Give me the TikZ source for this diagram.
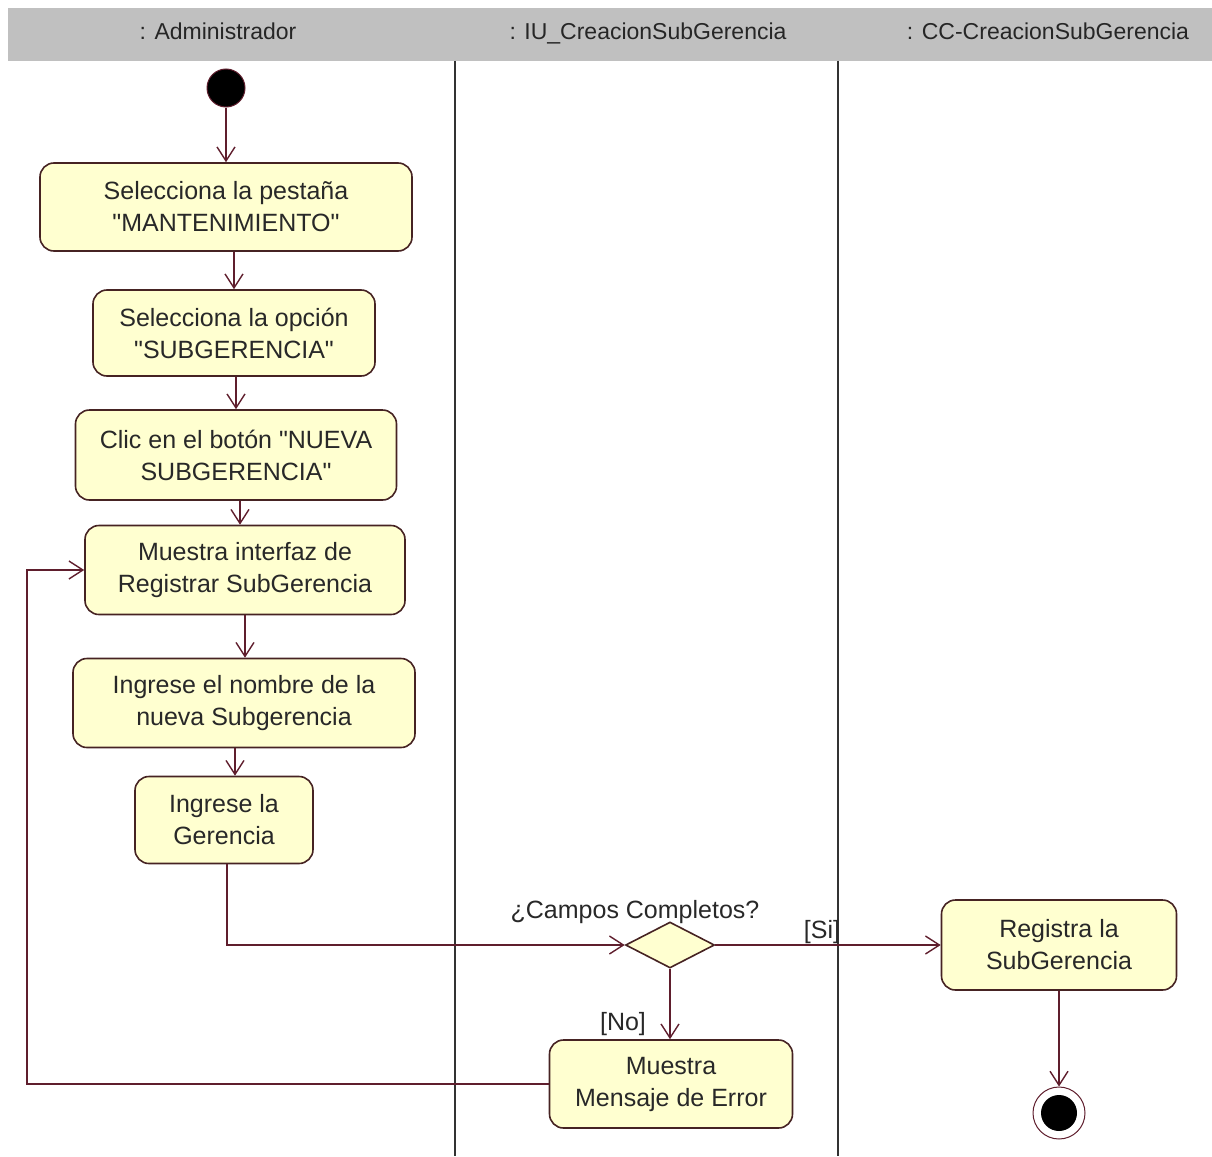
\documentclass[tikz,border=0pt]{standalone}
\usepackage{fontspec}
\setmainfont{Liberation Sans}[Ligatures=TeXOff]
\usetikzlibrary{arrows.meta,shapes.geometric}
\definecolor{lanegray}{RGB}{192,192,192}
\definecolor{actfill}{RGB}{255,255,208}
\definecolor{edgecol}{RGB}{95,30,45}
\definecolor{bordercol}{RGB}{70,35,35}
\definecolor{txtcol}{RGB}{40,40,40}
\definecolor{lanecol}{RGB}{50,50,50}

\begin{document}
\begin{tikzpicture}[x=1pt,y=-1pt,
  hdr/.style={font=\fontsize{23}{28}\selectfont, text=black!85, inner sep=0pt,
    text height=17pt, text depth=5pt},
  act/.style={draw=bordercol, line width=1.6pt, fill=actfill, rounded corners=14pt,
    align=center, font=\fontsize{25}{32}\selectfont, text=txtcol, inner sep=0pt},
  lbl/.style={font=\fontsize{25}{30}\selectfont, text=txtcol, inner sep=0pt},
  flow/.style={draw=edgecol, line width=1.6pt,
    -{Straight Barb[length=14pt,width=18pt,line width=1.4pt]}},
  lane/.style={draw=lanecol, line width=1.5pt},
  decision/.style={diamond, draw=bordercol, line width=1.6pt, fill=actfill,
    minimum width=89pt, minimum height=46pt, inner sep=0pt}
]
\useasboundingbox (0,0) rectangle (1212,1156);

% swimlane header band and separators
\fill[lanegray] (8,8) rectangle (1212,61);
\draw[lane] (455,61) -- (455,1156);
\draw[lane] (838,61) -- (838,1156);
\node[hdr] (hA) at (218,34) {: Administrador};
\node[hdr] (hB) at (648,34) {: IU\_CreacionSubGerencia};
\node[hdr] (hC) at (1048,34) {: CC-CreacionSubGerencia};

% initial node
\node[circle, fill=black, draw=edgecol, line width=1pt, minimum size=38pt, inner sep=0pt] (start) at (226,88) {};

% activities
\node[act, minimum width=372pt, minimum height=88pt] (A1) at (226,207)
  {Selecciona la pestaña\\"MANTENIMIENTO"};
\node[act, minimum width=282pt, minimum height=86pt] (A2) at (234,333)
  {Selecciona la opción\\"SUBGERENCIA"};
\node[act, minimum width=321pt, minimum height=90pt] (A3) at (236,455)
  {Clic en el botón "NUEVA\\SUBGERENCIA"};
\node[act, minimum width=320pt, minimum height=89pt] (A4) at (245,570)
  {Muestra interfaz de\\Registrar SubGerencia};
\node[act, minimum width=342pt, minimum height=89pt] (A5) at (244,703)
  {Ingrese el nombre de la\\nueva Subgerencia};
\node[act, minimum width=178pt, minimum height=87pt] (A6) at (224,820)
  {Ingrese la\\Gerencia};
\node[decision] (D) at (670,945) {};
\node[act, minimum width=243pt, minimum height=88pt] (A7) at (671,1084)
  {Muestra\\Mensaje de Error};
\node[act, minimum width=235pt, minimum height=90pt] (A8) at (1059,945)
  {Registra la\\SubGerencia};

% final node
\node[circle, fill=white, draw=edgecol, line width=1pt, minimum size=52pt, inner sep=0pt] (F) at (1059,1113) {};
\node[circle, fill=black, minimum size=36pt, inner sep=0pt] (Fin) at (F) {};

% guard and decision labels
\node[lbl] (q) at (635,912) {¿Campos Completos?};
\node[lbl] (no) at (623,1024) {[No]};
\node[lbl] (si) at (822,932) {[Si]};

% control flows
\coordinate (loopx) at (27,0);
\draw[flow] (start) -- (A1);
\draw[flow] (A1.south -| A2.north) -- (A2.north);
\draw[flow] (A2.south -| A3.north) -- (A3.north);
\draw[flow] ([xshift=4pt]A3.south) -- ([xshift=4pt]A3.south |- A4.north);
\draw[flow] (A4.south) -- (A4.south |- A5.north);
\draw[flow] ([xshift=-9pt]A5.south) -- ([xshift=-9pt]A5.south |- A6.north);
\draw[flow] ([xshift=3pt]A6.south) |- (D.west);
\draw[flow] (D.east) -- (A8.west);
\draw[flow] (D.south) -- (D.south |- A7.north);
\draw[flow] (A7.west) -- (A7.west -| loopx) |- (A4.west);
\draw[flow] (A8.south) -- (F.north);
\end{tikzpicture}
\end{document}
